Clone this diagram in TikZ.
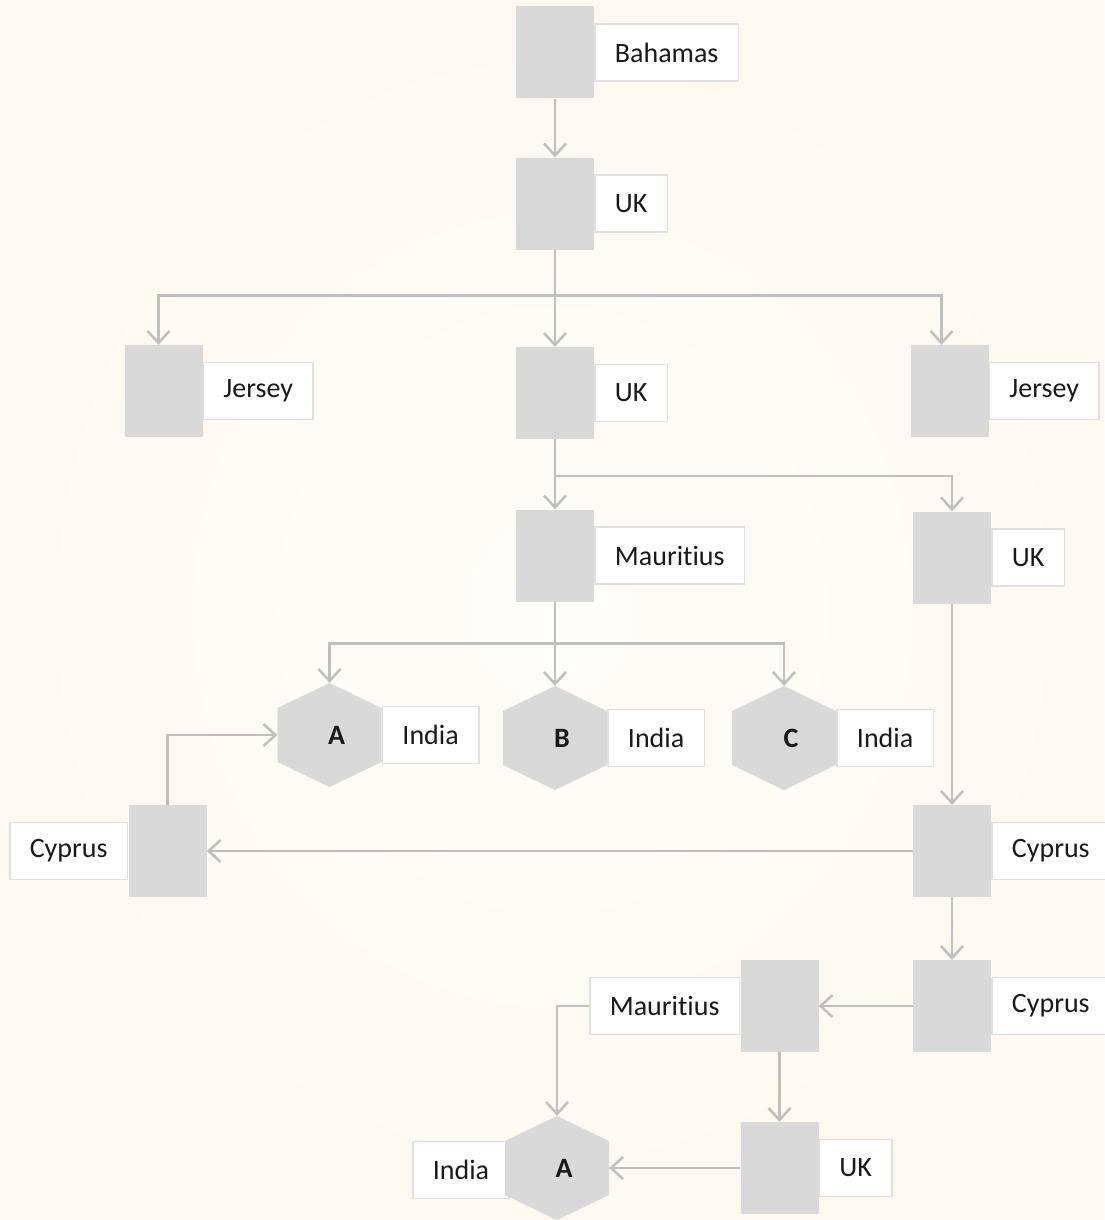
\documentclass[tikz,border=0pt]{standalone}
\usepackage{fontspec}
\setmainfont[Ligatures=NoCommon]{Carlito}
\usetikzlibrary{positioning,arrows.meta}

\definecolor{boxgray}{RGB}{217,217,217}
\definecolor{linegray}{RGB}{191,191,191}
\definecolor{lblline}{RGB}{224,224,224}
\definecolor{bgin}{RGB}{255,253,250}
\definecolor{bgout}{RGB}{254,248,240}
\definecolor{txt}{RGB}{25,25,25}

\tikzset{
  ent/.style={fill=boxgray,minimum width=78pt,minimum height=92pt,inner sep=0pt},
  hexa/.style={minimum width=104pt,minimum height=104pt,inner sep=0pt,
    path picture={\fill[boxgray] (path picture bounding box.north)
      -- ([yshift=27pt]path picture bounding box.east)
      -- ([yshift=-27pt]path picture bounding box.east)
      -- (path picture bounding box.south)
      -- ([yshift=-27pt]path picture bounding box.west)
      -- ([yshift=27pt]path picture bounding box.west) -- cycle;}},
  letter/.style={font=\bfseries,text=txt,xshift=7pt},
  lbl/.style={draw=lblline,line width=1.5pt,fill=white,text=txt,minimum height=57pt,inner xsep=20pt},
  arr/.style={draw=linegray,line width=2.5pt,-{Straight Barb[length=12pt,width=22pt]}}
}

\begin{document}
\fontsize{28}{34}\selectfont
\begin{tikzpicture}[x=1pt,y=-1pt]
  \useasboundingbox (0,0) rectangle (1104,1220);
  \shade[inner color=bgin,outer color=bgout] (0,0) rectangle (1104,1220);

  % top chain
  \node[ent] (bah) at (555,52.5) {};
  \node[lbl,right=0pt of bah] (bahl) {Bahamas};
  \node[ent] (uk1) at (555,203.5) {};
  \node[lbl,right=0pt of uk1] (uk1l) {UK};

  \node[ent] (jer1) at (163.5,391) {};
  \node[lbl,right=0pt of jer1] (jer1l) {Jersey};
  \node[ent] (uk2) at (555,393) {};
  \node[lbl,right=0pt of uk2] (uk2l) {UK};
  \node[ent] (jer2) at (949.5,391) {};
  \node[lbl,right=0pt of jer2] (jer2l) {Jersey};

  \node[ent] (mau1) at (555,555.5) {};
  \node[lbl,right=0pt of mau1] (mau1l) {Mauritius};
  \node[ent] (uk3) at (952,557.5) {};
  \node[lbl,right=0pt of uk3] (uk3l) {UK};

  % Indian companies
  \node[hexa,label={[letter]center:A}] (hexA) at (329.5,735) {};
  \node[lbl,right=0pt of hexA] (hexAl) {India};
  \node[hexa,label={[letter]center:B}] (hexB) at (555,738) {};
  \node[lbl,right=0pt of hexB] (hexBl) {India};
  \node[hexa,label={[letter]center:C}] (hexC) at (784,738) {};
  \node[lbl,right=0pt of hexC] (hexCl) {India};

  % Cyprus route
  \node[ent] (cypL) at (167.5,851) {};
  \node[lbl,left=0pt of cypL] (cypLl) {Cyprus};
  \node[ent] (cyp1) at (952,851) {};
  \node[lbl,right=0pt of cyp1] (cyp1l) {Cyprus};
  \node[ent] (cyp2) at (952,1006) {};
  \node[lbl,right=0pt of cyp2] (cyp2l) {Cyprus};
  \node[ent] (mau2) at (779.5,1006) {};
  \node[lbl,left=0pt of mau2] (mau2l) {Mauritius};
  \node[ent] (uk4) at (779.5,1168) {};
  \node[lbl,right=0pt of uk4] (uk4l) {UK};
  \node[lbl] (hexA2l) at (461,1170) {India};
  \node[hexa,label={[letter]center:A}] (hexA2) at (557,1168) {};

  % connectors
  \draw[arr] (bah.south) -- (uk1.north);
  \draw[arr] (uk1.south) -- ++(0,46) -| ([xshift=-5pt]jer1.north);
  \draw[arr] (uk1.south) -- (uk2.north);
  \draw[arr] (uk1.south) -- ++(0,46) -| ([xshift=-8pt]jer2.north);
  \draw[arr] (uk2.south) -- (mau1.north);
  \draw[arr] (uk2.south) -- ++(0,37) -| (uk3.north);
  \draw[arr] (mau1.south) -- ++(0,42) -| (hexA.north);
  \draw[arr] (mau1.south) -- (hexB.north);
  \draw[arr] (mau1.south) -- ++(0,42) -| (hexC.north);
  \draw[arr] (uk3.south) -- (cyp1.north);
  \draw[arr] (cyp1.west) -- (cypL.east);
  \draw[arr] (cypL.north) |- (hexA.west);
  \draw[arr] (cyp1.south) -- (cyp2.north);
  \draw[arr] (cyp2.west) -- (mau2.east);
  \draw[arr] (mau2l.west) -| (hexA2.north);
  \draw[arr] (mau2.south) -- (uk4.north);
  \draw[arr] (uk4.west) -- (hexA2.east);
\end{tikzpicture}
\end{document}
